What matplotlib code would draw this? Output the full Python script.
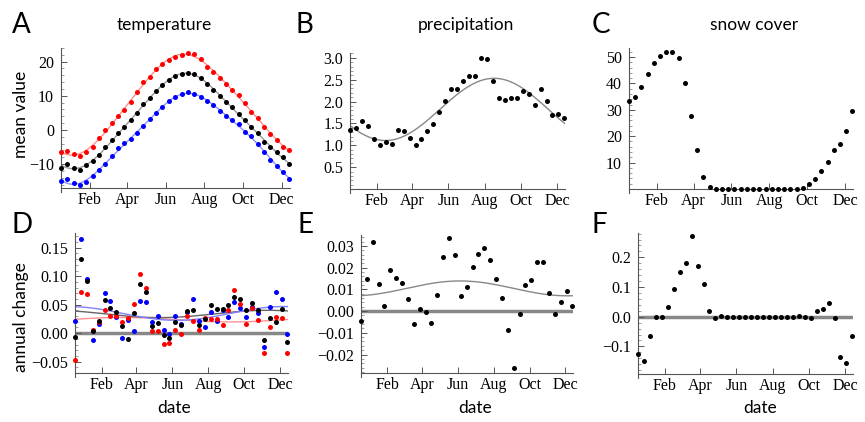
import matplotlib
matplotlib.use('Agg')
import matplotlib.pyplot as plt
import numpy as np
from matplotlib.ticker import AutoMinorLocator

# 10-day steps through the year
days = np.arange(1, 362, 10)
month_ticks = [46, 105, 166, 227, 288, 349]
month_labels = ['Feb', 'Apr', 'Jun', 'Aug', 'Oct', 'Dec']

temp_max = [-6.5, -6.1, -7.0, -7.5, -6.6, -4.9, -2.4, 0.0, 1.9, 4.0, 5.9, 8.2, 11.2, 14.1, 15.5, 17.8, 19.2,
            20.4, 21.4, 22.0, 22.6, 22.2, 20.8, 18.5, 17.0, 15.3, 13.4, 11.8, 10.1, 8.0, 5.3, 3.4, 1.0, -1.2,
            -2.9, -4.9, -6.0]
temp_mean = [-11.0, -10.0, -11.0, -11.6, -10.4, -9.2, -7.3, -5.1, -2.9, -1.0, 0.8, 2.9, 5.0, 7.5, 9.4, 11.5,
             13.1, 14.6, 15.7, 16.4, 16.8, 16.5, 15.3, 13.5, 11.8, 10.0, 8.2, 6.7, 4.8, 2.9, 0.9, -1.0, -3.4,
             -5.0, -6.5, -8.0, -9.9]
temp_min = [-15.0, -14.3, -15.5, -16.0, -15.2, -13.6, -11.8, -10.1, -7.5, -5.3, -3.9, -2.7, -1.0, 1.2, 3.1,
            5.0, 6.8, 8.4, 9.7, 10.6, 11.0, 10.6, 9.7, 8.5, 7.3, 5.5, 4.2, 2.9, 1.7, -0.5, -1.9, -4.1, -6.6,
            -8.9, -10.5, -12.3, -14.3]
precip = [1.36, 1.40, 1.55, 1.45, 1.15, 1.00, 1.07, 1.03, 1.34, 1.32, 1.16, 1.01, 1.15, 1.32, 1.48, 1.75,
          2.02, 2.29, 2.29, 2.47, 2.58, 2.58, 2.99, 2.97, 2.47, 2.08, 2.03, 2.08, 2.08, 2.25, 2.18, 1.93,
          2.28, 2.01, 1.70, 1.72, 1.63]
snow = [33.3, 34.8, 38.7, 43.7, 47.6, 50.3, 51.9, 51.9, 49.7, 40.3, 27.6, 14.6, 4.7, 0.6, 0, 0, 0, 0, 0,
        0, 0, 0, 0, 0, 0, 0, 0, 0, 0.5, 1.9, 3.9, 6.9, 10.3, 14.6, 17.0, 22.0, 29.6]

chg_mean = [-0.007, 0.130, 0.092, 0.003, 0.022, 0.058, 0.045, 0.038, 0.012, -0.010, 0.036, 0.086, 0.072,
            0.013, 0.018, -0.004, -0.008, 0.019, 0.015, 0.039, 0.041, 0.015, 0.025, 0.050, 0.042, 0.042,
            0.050, 0.063, 0.060, 0.041, 0.053, 0.040, -0.012, 0.026, 0.020, 0.042, -0.016]
chg_max = [-0.047, 0.072, 0.069, 0.006, 0.020, 0.041, 0.030, 0.030, 0.019, 0.026, 0.052, 0.104, 0.080,
           0.004, 0.004, -0.019, -0.017, 0.006, -0.002, 0.031, 0.022, 0.006, 0.026, 0.025, 0.025, 0.014,
           0.041, 0.076, 0.052, 0.016, 0.045, 0.023, -0.035, 0.011, 0.029, 0.026, -0.035]
chg_min = [0.021, 0.166, 0.096, -0.012, 0.016, 0.070, 0.056, 0.028, -0.008, 0.024, 0.004, 0.057, 0.054,
           0.019, 0.030, 0.006, -0.001, 0.030, 0.016, 0.037, 0.060, 0.022, 0.010, 0.038, 0.021, 0.041,
           0.029, 0.055, 0.045, 0.028, 0.046, 0.035, -0.025, 0.046, 0.072, 0.060, -0.002]
chg_precip = [-0.0046, 0.0148, 0.0318, 0.0124, 0.0023, 0.0190, 0.0150, 0.0129, 0.0055, -0.0061, 0.0008,
              -0.0003, -0.0057, 0.0073, 0.0248, 0.0335, 0.0256, 0.0069, 0.0112, 0.0204, 0.0262, 0.0288,
              0.0233, 0.0148, 0.0058, -0.0087, -0.0263, -0.0012, 0.0121, 0.0142, 0.0225, 0.0227, 0.0083,
              -0.0014, 0.0043, 0.0092, 0.0023]
chg_snow = [-0.124, -0.149, -0.065, -0.002, -0.002, 0.034, 0.094, 0.149, 0.180, 0.272, 0.170, 0.110, 0.020,
            -0.004, 0.003, -0.001, -0.001, -0.001, -0.001, -0.001, -0.001, -0.001, -0.001, -0.001, -0.001,
            -0.001, -0.001, 0.003, -0.002, -0.004, 0.019, 0.026, 0.045, -0.004, -0.135, -0.157, -0.065]

W, H = 865, 422
XLIM = (1, 362)
tfont = {'family': 'Liberation Serif', 'size': 11.5}
sfont = ['Lato', 'DejaVu Sans']


def design(x, n):
    cols = [np.ones_like(x)]
    for k in range(1, n + 1):
        cols += [np.cos(2 * np.pi * k * x / 365), np.sin(2 * np.pi * k * x / 365)]
    return np.column_stack(cols)


def harmonic_fit(x, y, n):
    x = np.asarray(x, float)
    coef = np.linalg.lstsq(design(x, n), np.asarray(y, float), rcond=None)[0]
    xs = np.linspace(XLIM[0], XLIM[1], 300)
    return xs, design(xs, n) @ coef


def make_ax(fig, l, r, t, b, ylim, yticks, yfmt, zero=False):
    ax = fig.add_axes([l / W, 1 - b / H, (r - l) / W, (b - t) / H])
    ax.set_xlim(*XLIM)
    ax.set_ylim(*ylim)
    for s in ['top', 'right']:
        ax.spines[s].set_visible(False)
    for s in ['left', 'bottom']:
        ax.spines[s].set_color('#555555')
        ax.spines[s].set_linewidth(0.8)
    # mathematica-style axes cross a little below the origin
    span = ylim[1] - ylim[0]
    ax.spines['left'].set_bounds(ylim[0] - 0.03 * span, ylim[1])
    ax.set_xticks(month_ticks)
    ax.set_xticklabels(month_labels, fontdict=tfont)
    ax.set_yticks(yticks)
    ax.set_yticklabels([yfmt(v) for v in yticks], fontdict=tfont)
    ax.yaxis.set_minor_locator(AutoMinorLocator(5))
    ax.tick_params(direction='in', length=4, width=0.7, color='#555555', pad=3)
    ax.tick_params(axis='y', pad=5)
    ax.tick_params(which='minor', direction='in', length=2, width=0.5, color='#777777')
    if zero:
        ax.axhline(0, color='#888888', lw=2.5, zorder=1)
    return ax


def dots(ax, y, color):
    ax.plot(days, y, 'o', color=color, ms=3.6, mew=0, zorder=3, clip_on=False)


def fmt_minus(d):
    return lambda v: ('%.*f' % (d, v)).replace('-', '\u2212')


fig = plt.figure(figsize=(W / 100, H / 100), dpi=100)

# A temperature
ax = make_ax(fig, 61, 290, 48, 188, (-17, 24), [-10, 0, 10, 20], fmt_minus(0))
for y, c, fc in [(temp_max, 'red', '#ff9090'), (temp_mean, 'black', '#999999'), (temp_min, 'blue', '#9090ff')]:
    xs, ys = harmonic_fit(days, y, 3)
    ax.plot(xs, ys, color=fc, lw=1, zorder=2)
    dots(ax, y, c)

# B precipitation
ax = make_ax(fig, 350, 565, 53, 189, (0, 3.11), [0.5, 1.0, 1.5, 2.0, 2.5, 3.0], fmt_minus(1))
xs, ys = harmonic_fit(days, precip, 1)
ax.plot(xs, ys, color='#888888', lw=1, zorder=2)
dots(ax, precip, 'black')

# C snow cover
ax = make_ax(fig, 629, 853, 48, 189, (0, 53.4), [10, 20, 30, 40, 50], fmt_minus(0))
dots(ax, snow, 'black')

# D annual change temperature
ax = make_ax(fig, 75, 288, 233, 373, (-0.070, 0.176), [-0.05, 0, 0.05, 0.10, 0.15], fmt_minus(2), zero=True)
for y, c, fc in [(chg_max, 'red', '#ff9090'), (chg_mean, 'black', '#666666'), (chg_min, 'blue', '#8080ff')]:
    xs, ys = harmonic_fit(days, y, 1)
    ax.plot(xs, ys, color=fc, lw=1, zorder=2)
for y, c in [(chg_min, 'blue'), (chg_max, 'red'), (chg_mean, 'black')]:
    dots(ax, y, c)

# E annual change precipitation
ax = make_ax(fig, 361, 573, 235, 373, (-0.0285, 0.035), [-0.02, -0.01, 0, 0.01, 0.02, 0.03], fmt_minus(2), zero=True)
xs, ys = harmonic_fit(days, chg_precip, 1)
ax.plot(xs, ys, color='#888888', lw=1, zorder=2)
dots(ax, chg_precip, 'black')

# F annual change snow
ax = make_ax(fig, 638, 853, 233, 374, (-0.193, 0.282), [-0.1, 0, 0.1, 0.2], fmt_minus(1), zero=True)
dots(ax, chg_snow, 'black')

# letters, titles, axis labels
for x, y, s in [(12, 33, 'A'), (296, 33, 'B'), (592, 33, 'C'), (12, 233, 'D'), (297, 233, 'E'), (592, 233, 'F')]:
    fig.text(x / W, 1 - y / H, s, fontsize=20, family=sfont, va='baseline')
for x, s in [(164, 'temperature'), (466, 'precipitation'), (754, 'snow cover')]:
    fig.text(x / W, 1 - 30 / H, s, fontsize=12.5, family=sfont, ha='center', va='baseline')
for x in [174, 475, 760]:
    fig.text(x / W, 1 - 413 / H, 'date', fontsize=12.5, family=sfont, ha='center', va='baseline')
fig.text(21 / W, 1 - 114 / H, 'mean value', fontsize=12.5, family=sfont, rotation=90, ha='center', va='center')
fig.text(21 / W, 1 - 317 / H, 'annual change', fontsize=12.5, family=sfont, rotation=90, ha='center', va='center')

fig.savefig('out.png', dpi=100)
